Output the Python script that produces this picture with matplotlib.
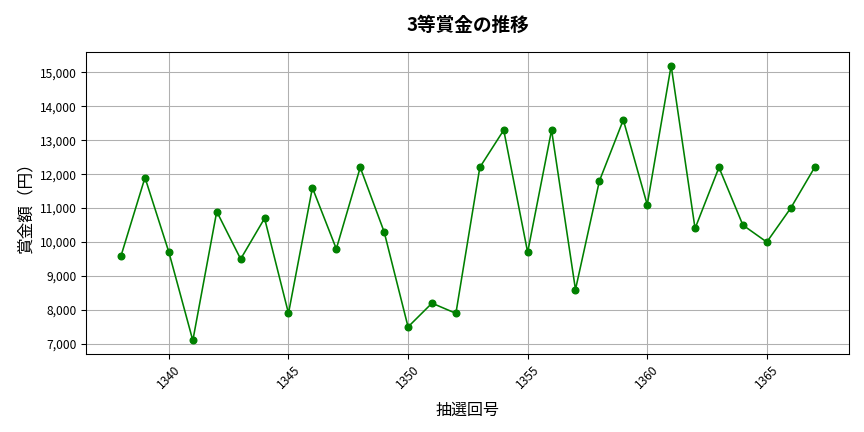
import matplotlib
matplotlib.use("Agg")
import matplotlib.pyplot as plt
from matplotlib.ticker import FuncFormatter

plt.rcParams['font.family'] = ['Noto Sans CJK JP', 'DejaVu Sans']

# 抽選回と3等賞金
draws = list(range(1338, 1368))
prizes = [9600, 11900, 9700, 7100, 10900, 9500, 10700, 7900, 11600, 9800,
          12200, 10300, 7500, 8200, 7900, 12200, 13300, 9700, 13300, 8600,
          11800, 13600, 11100, 15200, 10400, 12200, 10500, 10000, 11000, 12200]

fig, ax = plt.subplots(figsize=(9, 4.5), dpi=96)
ax.plot(draws, prizes, marker='o', color='green', linewidth=1.2, markersize=5)

ax.set_title('3等賞金の推移', fontsize=14, fontweight='bold', pad=16)
ax.set_xlabel('抽選回号', fontsize=12, labelpad=8)
ax.set_ylabel('賞金額（円）', fontsize=12.5)
ax.yaxis.set_major_formatter(FuncFormatter(lambda v, p: f'{int(v):,}'))
plt.xticks(rotation=45)
ax.tick_params(labelsize=9)
ax.grid(True, color='#b0b0b0', linewidth=0.8)

plt.subplots_adjust(left=0.1, right=0.983, top=0.88, bottom=0.18)
plt.savefig('out.png', dpi=96)
